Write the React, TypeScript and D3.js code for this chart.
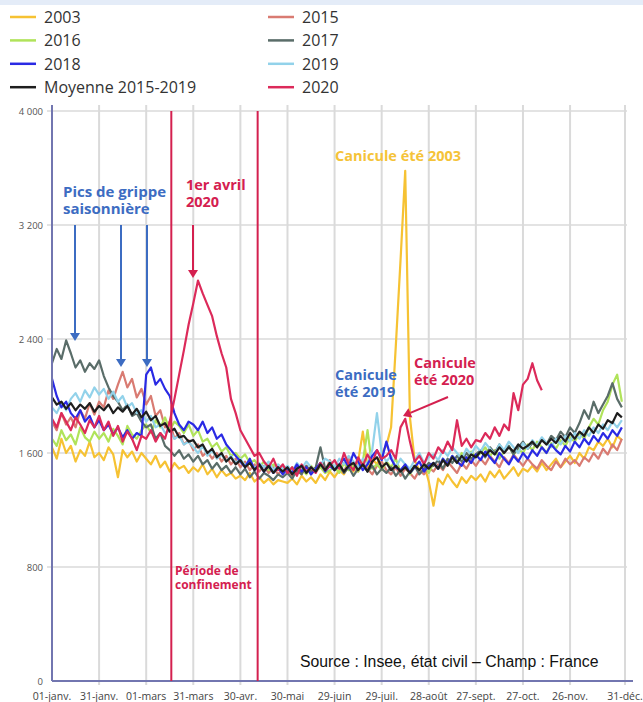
import React from 'react';
import * as d3 from 'd3';

// daily deaths, one value every 3 days from 01-janv. (day 0, 3, 6, ...)
const STEP = 3;

const deaths2003 = [
  1640, 1560, 1700, 1600, 1650, 1540, 1620, 1580, 1680, 1570, 1600,
  1550, 1640, 1590, 1430, 1620, 1570, 1610, 1540, 1600,
  1560, 1520, 1580, 1500, 1540, 1470, 1530, 1490, 1510, 1460,
  1500, 1470, 1520, 1450, 1490, 1430, 1480, 1440, 1460, 1420,
  1440, 1410, 1460, 1400, 1430, 1390, 1420, 1380, 1410, 1400,
  1390, 1420, 1380, 1440, 1400, 1430, 1390, 1450, 1410, 1470,
  1430, 1480, 1450, 1520, 1470, 1540, 1750, 1500, 1560, 1520, 1600,
  1650, 1780, 2350, 2950, 3580, 1850, 1550, 1480, 1520, 1400,
  1230, 1420, 1380, 1450, 1400, 1360, 1430, 1390, 1440, 1410,
  1450, 1400, 1470, 1430, 1480, 1420, 1460, 1500, 1440, 1490, 1470,
  1510, 1470, 1530, 1480, 1520, 1560, 1500, 1540, 1580, 1530,
  1600, 1560, 1640, 1620, 1680, 1650, 1700, 1640, 1720, 1690,
];

const deaths2015 = [
  1820, 1760, 1880, 1800, 1850, 1780, 1900, 1840, 1950, 1870, 1960,
  1920, 2040, 1980, 2080, 2170, 2060, 2120, 1990, 2050,
  1940, 2000, 1860, 1900, 1780, 1820, 1700, 1740, 1660, 1690,
  1620, 1660, 1580, 1610, 1560, 1600, 1540, 1580, 1520, 1560,
  1500, 1540, 1480, 1520, 1470, 1510, 1460, 1500, 1450, 1490,
  1470, 1440, 1500, 1460, 1510, 1450, 1490, 1530, 1470, 1550,
  1480, 1520, 1460, 1560, 1500, 1470, 1530, 1490, 1450, 1510, 1540,
  1480, 1450, 1500, 1440, 1490, 1460, 1420, 1480, 1450, 1500,
  1470, 1520, 1480, 1540, 1500, 1460, 1530, 1490, 1550, 1510,
  1560, 1520, 1580, 1540, 1500, 1570, 1530, 1590, 1550, 1510, 1560,
  1520, 1490, 1550, 1510, 1480, 1540, 1500, 1560, 1520, 1550,
  1510, 1570, 1540, 1600, 1560, 1630, 1590, 1660, 1620, 1700,
];

const deaths2016 = [
  1700, 1650, 1760, 1690, 1730, 1660, 1780, 1710, 1680, 1750, 1700,
  1740, 1680, 1770, 1720, 1660, 1790, 1730, 1700, 1760,
  1800, 1740, 1830, 1780, 1850, 1760, 1820, 1790, 1740, 1800,
  1720, 1760, 1680, 1700, 1640, 1670, 1610, 1640, 1580, 1600,
  1560, 1590, 1530, 1550, 1500, 1540, 1480, 1520, 1490, 1510,
  1470, 1500, 1460, 1490, 1450, 1510, 1470, 1500, 1460, 1480,
  1500, 1460, 1530, 1480, 1510, 1470, 1540, 1760, 1490, 1520, 1480,
  1540, 1500, 1560, 1470, 1520, 1450, 1500, 1480, 1520, 1460,
  1530, 1490, 1560, 1520, 1580, 1540, 1600, 1550, 1610, 1570,
  1600, 1640, 1580, 1620, 1560, 1610, 1650, 1590, 1630, 1600, 1660,
  1620, 1680, 1640, 1600, 1670, 1630, 1690, 1650, 1710, 1680,
  1740, 1700, 1780, 1840, 1800, 1900, 1960, 2080, 2150, 1960,
];

const deaths2017 = [
  2230, 2330, 2260, 2390, 2300, 2200, 2250, 2170, 2230, 2190, 2250,
  2140, 2060, 2000, 1960, 1900, 1940, 1860, 1880, 1820,
  1780, 1800, 1700, 1740, 1650, 1620, 1580, 1620, 1560, 1590,
  1540, 1580, 1520, 1550, 1490, 1530, 1480, 1510, 1460, 1500,
  1450, 1490, 1430, 1470, 1420, 1460, 1440, 1410, 1450, 1430,
  1460, 1420, 1480, 1450, 1510, 1470, 1500, 1640, 1490, 1520,
  1480, 1510, 1460, 1500, 1440, 1490, 1520, 1470, 1510, 1450, 1490,
  1460, 1500, 1440, 1480, 1420, 1470, 1510, 1450, 1490, 1530,
  1510, 1550, 1490, 1560, 1530, 1580, 1540, 1600, 1560, 1590,
  1620, 1570, 1640, 1600, 1660, 1610, 1650, 1590, 1640, 1680, 1630,
  1670, 1640, 1700, 1660, 1720, 1690, 1750, 1710, 1780, 1740,
  1810, 1900, 1840, 1960, 1880, 1940, 2000, 2090, 1980, 1920,
];

const deaths2018 = [
  2120, 2000, 1920, 1960, 1880, 1840, 1900, 1820, 1860, 1780, 1830,
  1760, 1800, 1730, 1780, 1710, 1760, 1700, 1740, 1720,
  2150, 2200, 2080, 2120, 2050, 2000, 1880, 1800, 1760, 1820,
  1800, 1760, 1820, 1740, 1780, 1700, 1730, 1660, 1620, 1580,
  1540, 1500, 1560, 1480, 1520, 1470, 1510, 1460, 1500, 1450,
  1490, 1460, 1520, 1470, 1500, 1450, 1490, 1530, 1470, 1510,
  1480, 1520, 1560, 1500, 1600, 1540, 1480, 1520, 1580, 1620, 1550,
  1680, 1560, 1500, 1480, 1520, 1460, 1500, 1540, 1470, 1510,
  1530, 1490, 1560, 1520, 1580, 1540, 1510, 1570, 1530, 1590,
  1550, 1610, 1570, 1530, 1600, 1560, 1520, 1580, 1540, 1600, 1560,
  1620, 1580, 1640, 1600, 1660, 1620, 1590, 1650, 1610, 1680,
  1640, 1700, 1660, 1720, 1680, 1740, 1700, 1760, 1720, 1780,
];

const deaths2019 = [
  1920, 1880, 1950, 1900, 1980, 2020, 1960, 2040, 1990, 2060, 2010,
  2050, 1980, 2030, 1960, 2000, 1920, 1950, 1880, 1900,
  1820, 1860, 1780, 1800, 1740, 1760, 1700, 1720, 1660, 1680,
  1640, 1600, 1650, 1580, 1620, 1560, 1590, 1540, 1580, 1530,
  1560, 1510, 1550, 1490, 1530, 1500, 1540, 1480, 1520, 1490,
  1510, 1470, 1530, 1490, 1540, 1500, 1480, 1520, 1560, 1540,
  1500, 1560, 1520, 1580, 1540, 1500, 1560, 1520, 1620, 1880, 1600,
  1540, 1580, 1500, 1560, 1520, 1490, 1550, 1600, 1530, 1570,
  1590, 1550, 1620, 1580, 1640, 1600, 1560, 1630, 1590, 1650,
  1610, 1670, 1630, 1590, 1660, 1620, 1680, 1640, 1600, 1670, 1630,
  1690, 1650, 1710, 1670, 1640, 1700, 1660, 1720, 1680, 1740,
  1700, 1760, 1720, 1780, 1740, 1800, 1760, 1820, 1780, 1830,
];

const deaths2020 = [
  1840, 1780, 1880, 1820, 1760, 1850, 1800, 1740, 1830, 1780, 1860,
  1760, 1820, 1720, 1790, 1680, 1750, 1700, 1620, 1720,
  1700, 1760, 1680, 1740, 1700, 1820, 1980, 2150, 2320, 2500,
  2650, 2810, 2720, 2640, 2560, 2420, 2300, 2200, 1980, 1880,
  1760, 1700, 1640, 1580, 1600, 1540, 1500, 1560, 1480, 1520,
  1460, 1500, 1440, 1520, 1470, 1500, 1460, 1530, 1480, 1510,
  1550, 1490, 1600, 1520, 1480, 1570, 1510, 1590, 1530, 1620, 1560,
  1580, 1620, 1560, 1780, 1840, 1680, 1540, 1580, 1520, 1600,
  1560, 1640, 1600, 1680, 1620, 1830, 1650, 1700, 1640, 1690,
  1680, 1740, 1700, 1780, 1720, 1800, 1760, 2020, 1900, 2080, 2120,
  2230, 2110, 2040,
];

const deathsMean = [
  1990, 1940, 1960, 1910, 1950, 1900, 1940, 1910, 1950, 1890, 1930,
  1900, 1940, 1880, 1920, 1890, 1930, 1870, 1910, 1850,
  1890, 1830, 1860, 1790, 1810, 1750, 1770, 1710, 1720, 1680,
  1690, 1640, 1660, 1600, 1630, 1570, 1600, 1540, 1570, 1520,
  1550, 1500, 1530, 1480, 1520, 1470, 1510, 1460, 1500, 1470,
  1500, 1450, 1490, 1510, 1460, 1500, 1470, 1520, 1480, 1530,
  1480, 1520, 1470, 1510, 1530, 1480, 1520, 1470, 1540, 1570, 1500,
  1530, 1480, 1510, 1470, 1500, 1460, 1510, 1480, 1520, 1490,
  1530, 1490, 1550, 1510, 1570, 1530, 1580, 1540, 1590, 1570,
  1610, 1580, 1620, 1590, 1640, 1600, 1640, 1610, 1660, 1630, 1650,
  1680, 1640, 1690, 1660, 1700, 1670, 1720, 1680, 1740, 1700,
  1750, 1720, 1780, 1740, 1800, 1770, 1830, 1810, 1880, 1850,
];

const xTickDays = [0, 30, 60, 90, 120, 150, 180, 210, 240, 270, 300, 330, 365];
const xTickLabels = ['01-janv.', '31-janv.', '01-mars', '31-mars', '30-avr.', '30-mai', '29-juin', '29-juil.', '28-août', '27-sept.', '27-oct.', '26-nov.', '31-déc.'];
const yTicks = [0, 800, 1600, 2400, 3200, 4000];

const confinementDays = [76, 131];

type Series = { name: string; values: number[]; color: string };

// drawing order
const series: Series[] = [
  { name: '2003', values: deaths2003, color: '#f6c233' },
  { name: '2015', values: deaths2015, color: '#d97b72' },
  { name: '2016', values: deaths2016, color: '#b0e35a' },
  { name: '2017', values: deaths2017, color: '#5a6d69' },
  { name: '2019', values: deaths2019, color: '#92d2ea' },
  { name: '2018', values: deaths2018, color: '#2a2ae4' },
  { name: '2020', values: deaths2020, color: '#dc2a5a' },
  { name: 'Moyenne 2015-2019', values: deathsMean, color: '#1e1e1e' },
];

const legendLeft = ['2003', '2016', '2018', 'Moyenne 2015-2019'];
const legendRight = ['2015', '2017', '2019', '2020'];

const W = 643;
const H = 702;
const left = 52;
const right = 625;
const top = 111;
const bottom = 681;

const BLUE = '#3c6cc2';
const RED = '#d4204f';
const YELLOW = '#f5c338';
const font = '"Open Sans", "DejaVu Sans", sans-serif';

function Arrow({ x1, y1, x2, y2, color }: { x1: number; y1: number; x2: number; y2: number; color: string }) {
  const a = Math.atan2(y2 - y1, x2 - x1);
  const len = 8;
  const wid = 5;
  const bx = x2 - len * Math.cos(a);
  const by = y2 - len * Math.sin(a);
  const px = -Math.sin(a) * wid;
  const py = Math.cos(a) * wid;
  return (
    <g>
      <line x1={x1} y1={y1} x2={bx} y2={by} stroke={color} strokeWidth={2} />
      <path d={`M${x2},${y2}L${bx + px},${by + py}L${bx - px},${by - py}Z`} fill={color} />
    </g>
  );
}

// multi-line label, one <text> per line
function Label({ x, y, lines, size, color, gap }: { x: number; y: number; lines: string[]; size: number; color: string; gap: number }) {
  return (
    <g>
      {lines.map((l, i) => (
        <text key={l} x={x} y={y + i * gap} fontSize={size} fontWeight="bold" fontFamily={font} fill={color}>{l}</text>
      ))}
    </g>
  );
}

export default function App() {
  const x = d3.scaleLinear().domain([0, 365]).range([left, right]);
  const y = d3.scaleLinear().domain([0, 4000]).range([bottom, top]);

  const line = d3.line<number>()
    .x((_, i) => x(i * STEP))
    .y(d => y(d));

  const colorOf = (name: string) => series.find(s => s.name === name)!.color;

  return (
    <svg width={W} height={H} style={{ display: 'block', position: 'absolute', left: 0, top: 0, background: '#fff' }}>
      <rect x={0} y={0} width={W} height={5} fill="#e4ecf8" />

      {/* legend */}
      {[legendLeft, legendRight].map((col, c) =>
        col.map((name, r) => {
          const lx = c === 0 ? 10 : 268;
          const ly = 17 + r * 23.4;
          return (
            <g key={name}>
              <line x1={lx} x2={lx + 26} y1={ly} y2={ly} stroke={colorOf(name)} strokeWidth={2.5} />
              <text x={lx + 34} y={ly} dominantBaseline="central" fontSize={16} fontFamily={font} fill="#333">{name}</text>
            </g>
          );
        })
      )}

      {/* grid */}
      {yTicks.filter(t => t > 0).map(t => (
        <line key={t} x1={left - 5} x2={right + 2} y1={y(t)} y2={y(t)} stroke="#dadada" strokeWidth={1.5} />
      ))}
      {xTickDays.slice(1).map(d => (
        <line key={d} x1={x(d)} x2={x(d)} y1={top - 6} y2={bottom + 4} stroke="#dadada" strokeWidth={2} />
      ))}
      {yTicks.map(t => (
        <text key={t} x={43} y={y(t)} textAnchor="end" dominantBaseline="central" fontSize={9.5} fontFamily={font} fill="#555">
          {d3.format(',')(t).replace(',', ' ')}
        </text>
      ))}
      {xTickDays.map((d, i) => (
        <text key={d} x={x(d)} y={696} textAnchor="middle" dominantBaseline="central" fontSize={10.5} fontFamily={font} fill="#444">
          {xTickLabels[i]}
        </text>
      ))}

      {/* series */}
      {series.map(s => (
        <path key={s.name} d={line(s.values) ?? ''} fill="none" stroke={s.color} strokeWidth={2.2} strokeLinejoin="round" />
      ))}

      {/* axes */}
      <line x1={left} x2={left} y1={top - 6} y2={bottom} stroke="#7276b0" strokeWidth={2} />
      <line x1={left} x2={right + 8} y1={bottom} y2={bottom} stroke="#7276b0" strokeWidth={2} />

      {/* confinement */}
      {confinementDays.map(d => (
        <line key={d} x1={x(d)} x2={x(d)} y1={top} y2={bottom} stroke={RED} strokeWidth={2} />
      ))}
      <Label x={175} y={575} lines={['Période de', 'confinement']} size={12} color={RED} gap={14} />

      {/* annotations */}
      <Label x={63} y={197} lines={['Pics de grippe', 'saisonnière']} size={15} color={BLUE} gap={17} />
      <Arrow x1={75} y1={225} x2={75} y2={341} color={BLUE} />
      <Arrow x1={121} y1={225} x2={121} y2={367} color={BLUE} />
      <Arrow x1={147} y1={225} x2={147} y2={367} color={BLUE} />

      <Label x={186} y={190} lines={['1er avril', '2020']} size={14.5} color={RED} gap={17} />
      <Arrow x1={193} y1={225} x2={193} y2={278} color={RED} />

      <Label x={335} y={161} lines={['Canicule été 2003']} size={14.5} color={YELLOW} gap={17} />
      <Label x={335} y={380} lines={['Canicule', 'été 2019']} size={14.5} color={BLUE} gap={17} />
      <Label x={414} y={368} lines={['Canicule', 'été 2020']} size={14.5} color={RED} gap={17} />
      <Arrow x1={448} y1={397} x2={403} y2={416} color={RED} />

      <text x={300} y={667} fontSize={15.8} fontFamily='"Liberation Sans", Arial, sans-serif' fill="#111">
        Source : Insee, état civil – Champ : France
      </text>
    </svg>
  );
}
